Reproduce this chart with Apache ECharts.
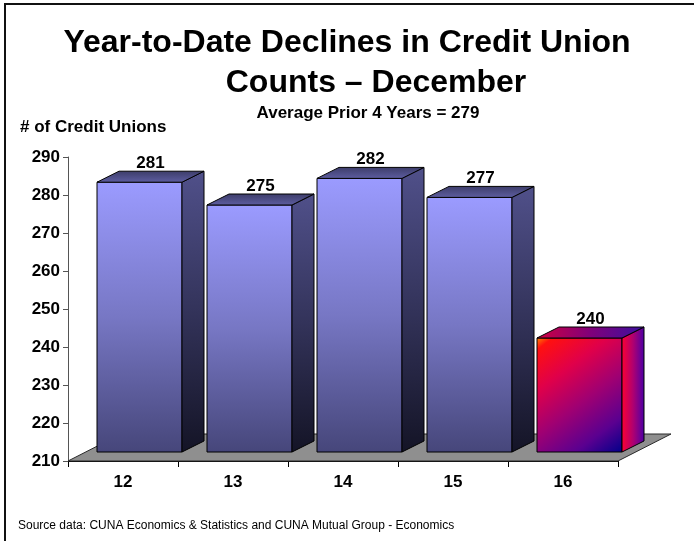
<!DOCTYPE html>
<html>
<head>
<meta charset="utf-8">
<script src="https://cdn.jsdelivr.net/npm/echarts@6/dist/echarts.min.js"></script>
<style>
  html, body { margin: 0; padding: 0; background: #fff; }
  #chart { width: 694px; height: 541px; }
</style>
</head>
<body>
<div id="chart"></div>
<script>
// Year-end declines in credit union counts, by year (20xx)
const years = ['12', '13', '14', '15', '16'];
const declines = [281, 275, 282, 277, 240];
const yTicks = [210, 220, 230, 240, 250, 260, 270, 280, 290];

const titleLines = ['Year-to-Date Declines in Credit Union', 'Counts \u2013 December'];
const averageNote = 'Average Prior 4 Years = 279';
const axisTitle = '# of Credit Unions';
const sourceNote = 'Source data: CUNA Economics & Statistics and CUNA Mutual Group - Economics';

const FONT = '"Liberation Sans", Arial, Helvetica, sans-serif';
const yMin = yTicks[0];
const yMax = yTicks[yTicks.length - 1];
const yStep = yTicks[1] - yTicks[0];

function grad(x2, y2, stops) {
  return {
    type: 'linear', x: 0, y: 0, x2: x2, y2: y2, global: false,
    colorStops: stops.map(function (s) { return { offset: s[0], color: s[1] }; })
  };
}

// face fills for the prior years and the current year
const coolFaces = {
  front: grad(0, 1, [[0, '#9b9bff'], [0.5, '#7777c4'], [1, '#46467a']]),
  side: grad(0, 1, [[0, '#50508a'], [0.5, '#33335a'], [1, '#141426']]),
  top: grad(0, 1, [[0, '#3c3c68'], [1, '#5e5ea2']])
};
const hotFaces = {
  front: grad(1, 1, [[0, '#ff8a00'], [0.07, '#ff1010'], [0.3, '#e0004a'], [0.55, '#a00072'], [0.8, '#5a0090'], [1, '#00008a']]),
  side: grad(1, 0, [[0, '#ff0030'], [0.5, '#b00070'], [1, '#4a00a8']]),
  top: grad(1, 0, [[0, '#d00040'], [0.5, '#80007a'], [1, '#3a10a0']])
};

// geometry of the pseudo-3D blocks, in units of a 110px category band
const BAND = 110;
const BAR_LEFT = -26, BAR_RIGHT = 59, BAR_LIFT = 9, BAR_DX = 22, BAR_DY = -11;
const FLOOR_DX = 53, FLOOR_DY = -27;

function renderFloor(params, api) {
  const cs = params.coordSys;
  const s = api.size([1, 0])[0] / BAND;
  const y = api.coord([0, yMin])[1];
  const xl = cs.x, xr = cs.x + cs.width;
  const dx = FLOOR_DX * s, dy = FLOOR_DY * s;
  return {
    type: 'polygon',
    shape: { points: [[xl, y], [xr, y], [xr + dx, y + dy], [xl + dx, y + dy]] },
    style: { fill: '#8f8f8f', stroke: '#2a2a2a', lineWidth: 1 }
  };
}

function renderBar(params, api) {
  const i = api.value(0);
  const v = api.value(1);
  const base = api.coord([i, yMin]);
  const top = api.coord([i, v]);
  const s = api.size([1, 0])[0] / BAND;
  const x0 = base[0] + BAR_LEFT * s, x1 = base[0] + BAR_RIGHT * s;
  const yb = base[1] - BAR_LIFT * s, yt = top[1] - BAR_LIFT * s;
  const dx = BAR_DX * s, dy = BAR_DY * s;
  const faces = i === declines.length - 1 ? hotFaces : coolFaces;
  return {
    type: 'group',
    children: [
      { type: 'polygon', shape: { points: [[x0, yt], [x1, yt], [x1, yb], [x0, yb]] },
        style: { fill: faces.front, stroke: '#000', lineWidth: 1 } },
      { type: 'polygon', shape: { points: [[x1, yt], [x1 + dx, yt + dy], [x1 + dx, yb + dy], [x1, yb]] },
        style: { fill: faces.side, stroke: '#000', lineWidth: 1 } },
      { type: 'polygon', shape: { points: [[x0, yt], [x0 + dx, yt + dy], [x1 + dx, yt + dy], [x1, yt]] },
        style: { fill: faces.top, stroke: '#000', lineWidth: 1 } },
      { type: 'text',
        style: { text: String(v), x: (x0 + x1) / 2 + dx / 2, y: yt + dy - 8,
          textAlign: 'center', textVerticalAlign: 'middle', align: 'center', verticalAlign: 'middle',
          font: 'bold 17px ' + FONT, fill: '#000' } }
    ]
  };
}

const chart = echarts.init(document.getElementById('chart'), null, { renderer: 'canvas' });

chart.setOption({
  animation: false,
  backgroundColor: '#fff',
  grid: { left: 68, right: 76, top: 157, bottom: 80, containLabel: false },
  xAxis: {
    type: 'category',
    data: years,
    boundaryGap: true,
    axisLine: { show: true, lineStyle: { color: '#000', width: 1 } },
    axisTick: { show: true, interval: 0, alignWithLabel: false, length: 6, lineStyle: { color: '#000' } },
    axisLabel: { color: '#000', fontFamily: FONT, fontWeight: 'bold', fontSize: 17, margin: 13, interval: 0 },
    splitLine: { show: false }
  },
  yAxis: {
    type: 'value',
    min: yMin, max: yMax, interval: yStep,
    axisLine: { show: true, lineStyle: { color: '#555', width: 1 } },
    axisTick: { show: true, length: 5, lineStyle: { color: '#555' } },
    axisLabel: { color: '#000', fontFamily: FONT, fontWeight: 'bold', fontSize: 17, margin: 8 },
    splitLine: { show: false }
  },
  series: [
    { type: 'custom', name: 'floor', silent: true, clip: false, z: 1,
      data: [[0, yMin]], encode: { x: 0, y: 1 }, renderItem: renderFloor },
    { type: 'custom', name: 'declines', silent: true, clip: false, z: 3,
      data: declines.map(function (v, i) { return [i, v]; }), encode: { x: 0, y: 1 },
      renderItem: renderBar }
  ],
  graphic: [
    { type: 'rect', silent: true, z: 100,
      shape: { x: 5, y: 4, width: 720, height: 560 },
      style: { fill: 'none', stroke: '#111', lineWidth: 2 } },
    { type: 'text', silent: true, x: 347, y: 43,
      style: { text: titleLines[0], align: 'center', verticalAlign: 'middle',
        font: 'bold 32px ' + FONT, fill: '#000' } },
    { type: 'text', silent: true, x: 376, y: 83,
      style: { text: titleLines[1], align: 'center', verticalAlign: 'middle',
        font: 'bold 32px ' + FONT, fill: '#000' } },
    { type: 'text', silent: true, x: 368, y: 113,
      style: { text: averageNote, align: 'center', verticalAlign: 'middle',
        font: 'bold 17px ' + FONT, fill: '#000' } },
    { type: 'text', silent: true, x: 20, y: 127,
      style: { text: axisTitle, align: 'left', verticalAlign: 'middle',
        font: 'bold 17px ' + FONT, fill: '#000' } },
    { type: 'text', silent: true, x: 18, y: 526,
      style: { text: sourceNote, align: 'left', verticalAlign: 'middle',
        font: '12px ' + FONT, fill: '#000' } }
  ]
});
</script>
</body>
</html>
